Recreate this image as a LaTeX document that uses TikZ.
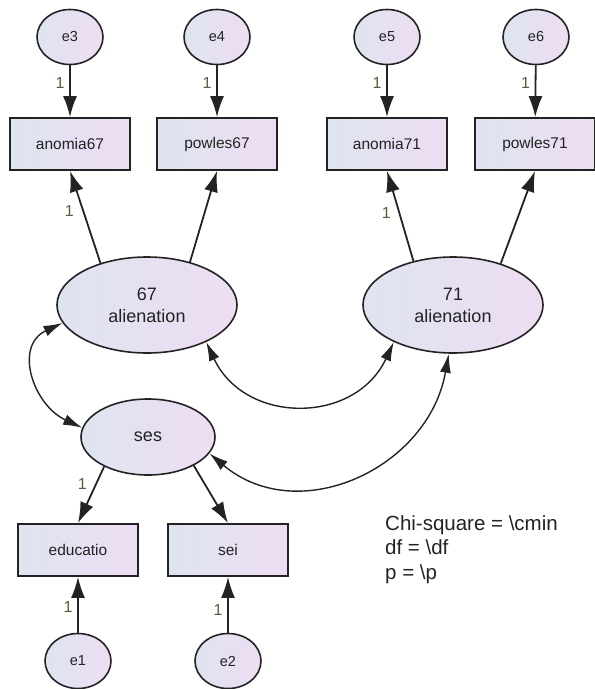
\documentclass[tikz,border=0pt]{standalone}
\usepackage{fontspec}
\setmainfont{Liberation Sans}
\usetikzlibrary{arrows.meta,shapes.geometric}
\definecolor{fillL}{RGB}{222,228,240}
\definecolor{fillR}{RGB}{238,221,243}
\definecolor{ink}{RGB}{35,35,35}
\definecolor{parcol}{RGB}{95,90,60}

\begin{document}
\begin{tikzpicture}[x=1pt,y=1pt,
  obs/.style={draw=ink, line width=1.8pt, rectangle, minimum width=120pt,
    minimum height=52pt, left color=fillL, right color=fillR,
    font=\fontsize{15.5}{18}\selectfont, text=ink},
  err/.style={draw=ink, line width=1.6pt, ellipse, minimum width=66pt,
    minimum height=55pt, inner sep=0pt, left color=fillL, right color=fillR,
    font=\fontsize{14.5}{16}\selectfont, text=ink},
  lat/.style={draw=ink, line width=1.6pt, ellipse, inner sep=0pt,
    left color=fillL, right color=fillR, font=\fontsize{18}{22}\selectfont,
    align=center, text=ink},
  reg/.style={-{Latex[length=21pt,width=14pt]}, line width=1.8pt, draw=ink},
  cov/.style={{Latex[length=19pt,width=11pt]}-{Latex[length=19pt,width=11pt]},
    line width=1.4pt, draw=ink},
  wt/.style={font=\fontsize{16}{18}\selectfont, text=parcol, inner sep=0pt,
    anchor=center},
  fitline/.style={anchor=base west, inner sep=0pt, text=ink,
    font=\fontsize{20.5}{24}\selectfont}
]
\useasboundingbox (0,0) rectangle (595,-689);

% error terms of the 1967 and 1971 indicators
\node[err] (e3) at (70,-37) {e3};
\node[err] (e4) at (217,-37) {e4};
\node[err] (e5) at (387,-37) {e5};
\node[err] (e6) at (536,-37) {e6};

% observed indicators
\node[obs] (an67) at (70,-144) {anomia67};
\node[obs] (pw67) at (217,-144) {powles67};
\node[obs] (an71) at (387,-144) {anomia71};
\node[obs] (pw71) at (535,-144) {powles71};

% latent variables
\node[lat, minimum width=180pt, minimum height=96pt] (al67) at (147,-305) {67\\alienation};
\node[lat, minimum width=180pt, minimum height=96pt] (al71) at (453,-305) {71\\alienation};
\node[lat, minimum width=134pt, minimum height=76pt] (ses) at (148,-437) {ses};

% ses indicators and their errors
\node[obs] (edu) at (78,-550) {educatio};
\node[obs] (sei) at (228,-550) {sei};
\node[err] (e1) at (78,-661) {e1};
\node[err] (e2) at (228,-661) {e2};

% error paths
\draw[reg] (e3) -- node[wt, xshift=-10pt, pos=0.35] {1} (an67);
\draw[reg] (e4) -- node[wt, xshift=-10pt, pos=0.35] {1} (pw67);
\draw[reg] (e5) -- node[wt, xshift=-10pt, pos=0.35] {1} (an71);
\draw[reg] (e6) -- node[wt, xshift=-10pt, pos=0.35] {1} (pw71);
\draw[reg] (e1) -- node[wt, xshift=-10pt, pos=0.46] {1} (edu);
\draw[reg] (e2) -- node[wt, xshift=-10pt, pos=0.41] {1} (sei);

% loadings
\draw[reg] (al67.138) -- node[wt, xshift=-14pt, pos=0.56] {1} (an67.south);
\draw[reg] (al67.45) -- (pw67.south);
\draw[reg] (al71.132) -- node[wt, xshift=-13pt, pos=0.53] {1} (an71.south);
\draw[reg] (al71.41) -- (pw71.south);
\draw[reg] (ses.214) -- node[wt, xshift=-14pt, pos=0.3] {1} (edu.north);
\draw[reg] (ses.328) -- (sei.north);

% covariances
\draw[cov] (al67.192) to[out=205, in=155, looseness=1.3] (ses.172);
\draw[cov] (al67.328) to[out=-65, in=-115, looseness=1.25] (al71.212);
\draw[cov] (ses.345) to[out=-40, in=-100, looseness=1.15] (al71.265);

% fit statistics
\node[fitline] (fit1) at (385,-530) {Chi-square = \textbackslash cmin};
\node[fitline] (fit2) at (385,-554.5) {df = \textbackslash df};
\node[fitline] (fit3) at (385,-579) {p = \textbackslash p};
\end{tikzpicture}
\end{document}
